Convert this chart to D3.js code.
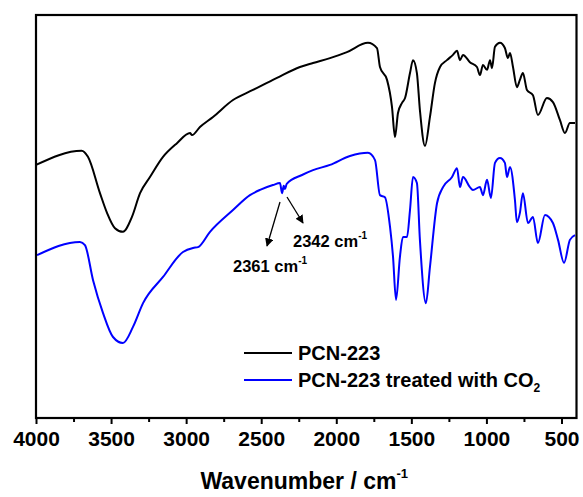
<!DOCTYPE html>
<html>
<head>
<meta charset="utf-8">
<script src="https://cdn.jsdelivr.net/npm/d3@7/dist/d3.min.js"></script>
<style>
  html, body { margin: 0; padding: 0; background: #fff; }
  svg { display: block; font-family: "Liberation Sans", Arial, sans-serif; font-weight: bold; }
</style>
</head>
<body>
<svg id="chart" width="583" height="497"></svg>
<script>
// FTIR spectra (wavenumber in cm^-1, transmittance in arbitrary offset units)
const pcnWavenumber = [4000, 3696, 3654, 3574, 3527, 3474, 3421, 3361, 3307, 3241, 3154, 3061, 2974, 2961, 2908,
  2821, 2688, 2555, 2395, 2242, 2155, 2042, 1929, 1789, 1729, 1709, 1662, 1629, 1609, 1589, 1562, 1542, 1509, 1489,
  1463, 1443, 1409, 1376, 1343, 1309, 1263, 1223, 1196, 1176, 1156, 1110, 1063, 1043, 1023, 996, 976, 963, 943,
  910, 877, 857, 843, 823, 797, 777, 757, 730, 690, 657, 597, 557, 510, 477, 444, 410];
const pcnValues = [62.8, 66.3, 64.8, 55.8, 50.9, 47.1, 46.2, 49.9, 55.8, 59.8, 64.8, 68.2, 70.7, 70.2, 72.2,
  74.7, 78.9, 81.4, 84.4, 87.1, 88.1, 89.3, 90.8, 93.1, 91.8, 87.1, 83.9, 77.2, 69.7, 75.7, 78.2, 79.4, 85.6, 88.8,
  85.6, 76.4, 67.5, 74.7, 83.1, 87.1, 88.8, 90.1, 91.1, 88.8, 90.1, 88.3, 87.1, 85.1, 87.6, 86.4, 88.8, 86.8, 92.1,
  93.1, 91.8, 89.3, 90.6, 87.1, 82.1, 83.9, 85.6, 81.4, 80.1, 75.2, 79.4, 78.4, 73.9, 70.7, 73.2, 73.2];

const co2Wavenumber = [3993, 3707, 3674, 3620, 3554, 3487, 3421, 3354, 3287, 3154, 3021, 2954, 2921, 2841, 2688,
  2575, 2508, 2422, 2375, 2361, 2350, 2342, 2330, 2228, 2155, 2042, 1909, 1789, 1742, 1709, 1676, 1642, 1622, 1602,
  1576, 1556, 1529, 1509, 1489, 1463, 1443, 1403, 1376, 1329, 1289, 1229, 1196, 1176, 1156, 1110, 1090, 1043, 1023,
  996, 970, 943, 910, 877, 863, 843, 810, 797, 777, 757, 723, 690, 657, 610, 557, 523, 483, 444, 410];
const co2Values = [40.4, 43.7, 42.9, 34.2, 26.1, 20.1, 18.6, 22.6, 28.5, 35.0, 41.2, 42.2, 42.4, 46.2, 51.6,
  55.3, 56.6, 57.8, 58.3, 55.8, 57.6, 56.8, 58.1, 60.3, 61.5, 62.8, 65.0, 65.8, 64.0, 55.3, 54.8, 47.4, 40.0, 29.3,
  40.0, 44.9, 44.9, 51.6, 59.8, 58.3, 44.2, 28.5, 37.5, 53.3, 57.3, 59.8, 62.0, 57.3, 59.8, 57.3, 56.6, 57.3, 55.3,
  59.1, 54.6, 63.3, 64.5, 63.3, 59.8, 62.3, 54.1, 48.6, 50.9, 55.8, 48.4, 49.9, 43.4, 50.4, 48.4, 44.2, 38.5, 44.2, 45.4];

const seriesNames = ["PCN-223", "PCN-223 treated with CO"];
const seriesColors = ["#000000", "#0000ff"];
const majorTicks = [4000, 3500, 3000, 2500, 2000, 1500, 1000, 500];
const minorTicks = [3750, 3250, 2750, 2250, 1750, 1250, 750];

const svg = d3.select("#chart");
const plotLeft = 36, plotRight = 576.5, plotTop = 15, plotBottom = 418;

const x = d3.scaleLinear().domain([4000, 400]).range([plotLeft, plotRight]);
const y = d3.scaleLinear().domain([0, 100]).range([plotBottom, plotTop]);

// Spectra
const line = d3.line().x(d => x(d[0])).y(d => y(d[1])).curve(d3.curveMonotoneX);
const series = [
  d3.zip(pcnWavenumber, pcnValues),
  d3.zip(co2Wavenumber, co2Values)
];
svg.append("g").selectAll("path").data(series).join("path")
  .attr("d", line)
  .attr("fill", "none")
  .attr("stroke", (d, i) => seriesColors[i])
  .attr("stroke-width", 2)
  .attr("stroke-linejoin", "round");

// Bottom axis with major labels and minor ticks
const xAxis = svg.append("g").attr("transform", `translate(0,${plotBottom})`)
  .call(d3.axisBottom(x).tickValues(majorTicks).tickSize(6).tickSizeOuter(0).tickPadding(7).tickFormat(d3.format("d")));
xAxis.select(".domain").remove();
xAxis.selectAll(".tick line").attr("stroke", "#000").attr("stroke-width", 2);
xAxis.selectAll(".tick text").attr("font-size", 21).attr("font-weight", "bold")
  .attr("font-family", "'Liberation Sans', Arial, sans-serif").attr("fill", "#000");

svg.append("g").attr("transform", `translate(0,${plotBottom})`)
  .call(d3.axisBottom(x).tickValues(minorTicks).tickSize(4).tickSizeOuter(0).tickFormat(""))
  .call(g => g.select(".domain").remove())
  .selectAll(".tick line").attr("stroke", "#000").attr("stroke-width", 2);

// Frame
svg.append("rect")
  .attr("x", plotLeft).attr("y", plotTop)
  .attr("width", plotRight - plotLeft).attr("height", plotBottom - plotTop)
  .attr("fill", "none").attr("stroke", "#000").attr("stroke-width", 2.2);

// Axis title
const xt = svg.append("text")
  .attr("x", (plotLeft + plotRight) / 2 - 2).attr("y", 489)
  .attr("text-anchor", "middle").attr("font-size", 23).attr("fill", "#000");
xt.append("tspan").text("Wavenumber / cm");
xt.append("tspan").attr("font-size", 13).attr("dy", -11).text("-1");

// Legend
const legend = svg.append("g");
[353, 380].forEach((ly, i) => {
  legend.append("line").attr("x1", 244).attr("x2", 292).attr("y1", ly).attr("y2", ly)
    .attr("stroke", seriesColors[i]).attr("stroke-width", 2);
  const t = legend.append("text").attr("x", 298).attr("y", ly + 7).attr("font-size", 20).attr("fill", "#000")
    .text(seriesNames[i]);
  if (i === 1) t.append("tspan").attr("font-size", 12).attr("dy", 5).text("2");
});

// Peak annotations with arrows
const defs = svg.append("defs");
defs.append("marker").attr("id", "arrow").attr("viewBox", "0 0 10 10")
  .attr("refX", 9).attr("refY", 5).attr("markerWidth", 6.5).attr("markerHeight", 6.5)
  .attr("orient", "auto-start-reverse")
  .append("path").attr("d", "M0,0 L10,5 L0,10 z").attr("fill", "#000");

const annotations = [
  { label: "2361 cm", x1: 280, y1: 202, x2: 267, y2: 246, tx: 233, ty: 272 },
  { label: "2342 cm", x1: 287, y1: 197, x2: 303, y2: 223, tx: 293, ty: 247 }
];
annotations.forEach(a => {
  svg.append("line").attr("x1", a.x1).attr("y1", a.y1).attr("x2", a.x2).attr("y2", a.y2)
    .attr("stroke", "#000").attr("stroke-width", 1.3).attr("marker-end", "url(#arrow)");
  const t = svg.append("text").attr("x", a.tx).attr("y", a.ty).attr("font-size", 16.5).attr("fill", "#000");
  t.append("tspan").text(a.label);
  t.append("tspan").attr("font-size", 10).attr("dy", -8).text("-1");
});
</script>
</body>
</html>
